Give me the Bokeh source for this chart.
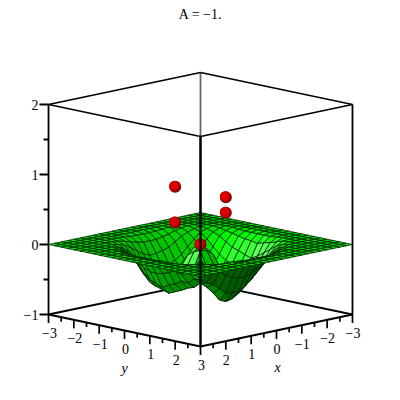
import numpy as np
from bokeh.plotting import figure
from bokeh.models import Range1d
from bokeh.core.properties import value
from bokeh.embed import file_html
from bokeh.resources import INLINE

# Surface heights in hundredths, rows y=-2.25..2.25, columns x=-2.25..2.25 (step 0.25); zero outside.
Z_CORE = [
 [0,0,0,0,0,0,-1,-2,-2,-2,-2,-2,-1,0,0,0,0,0,0],
 [0,0,0,0,-1,-3,-6,-8,-10,-10,-10,-8,-6,-3,-1,0,0,0,0],
 [0,0,0,-2,-5,-9,-15,-21,-24,-26,-27,-23,-17,-10,-5,-2,0,0,0],
 [0,0,-2,-5,-13,-22,-31,-38,-41,-45,-46,-42,-34,-24,-14,-6,-2,0,0],
 [0,-1,-5,-13,-24,-36,-45,-49,-51,-54,-57,-54,-50,-40,-27,-14,-5,-1,0],
 [0,-3,-9,-22,-36,-47,-52,-50,-50,-50,-55,-56,-58,-52,-40,-24,-10,-3,0],
 [-1,-5,-15,-31,-45,-52,-50,-44,-40,-38,-44,-49,-55,-58,-50,-34,-17,-6,-1],
 [-2,-7,-21,-38,-49,-50,-44,-35,-26,-22,-29,-39,-49,-56,-54,-42,-23,-8,-2],
 [-2,-9,-24,-41,-51,-50,-40,-26,-13,-6,-15,-29,-44,-55,-57,-46,-27,-10,-2],
 [-2,-10,-28,-48,-58,-54,-42,-25,-8,0,-8,-25,-42,-54,-60,-50,-28,-10,-2],
 [-2,-12,-31,-53,-66,-63,-51,-33,-14,-7,-5,-28,-46,-54,-56,-44,-26,-10,-2],
 [-2,-9,-26,-48,-62,-64,-56,-45,-30,-24,-28,-14,-34,-50,-52,-41,-23,-8,-2],
 [-1,-7,-20,-38,-52,-58,-58,-54,-50,-46,-50,-36,-20,-40,-47,-35,-18,-6,-1],
 [0,-4,-13,-27,-40,-50,-58,-60,-60,-62,-62,-56,-40,-34,-44,-36,-22,-8,-2],
 [0,-1,-6,-15,-26,-36,-46,-54,-62,-68,-70,-66,-54,-44,-36,-28,-14,-5,-1],
 [0,0,-2,-6,-14,-24,-33,-42,-50,-55,-56,-54,-46,-38,-34,-28,-10,-3,0],
 [0,0,0,-2,-5,-10,-16,-23,-29,-33,-32,-30,-24,-18,-13,-8,-3,0,0],
 [0,0,0,0,-1,-3,-6,-8,-11,-12,-12,-11,-9,-6,-4,-2,0,0,0],
 [0,0,0,0,0,0,-1,-2,-2,-2,-2,-2,-1,0,0,0,0,0,0],
]
POINT_X = [0, 1, 0, -1, 0]
POINT_Y = [-1, 0, 1, 0, 0]
POINT_Z = [0.75, 0.39, 0.53, 0.60, 0.0]
TITLE = "A = \u22121."
Z_TICKS = [-1, 0, 1, 2]
Z_MINOR = [-0.5, 0.5, 1.5]
XY_TICKS = [-3, -2, -1, 0, 1, 2, 3]
XY_MINOR = [-2.5, -1.5, -0.5, 0.5, 1.5, 2.5]


def lab(v):
    return str(v).replace("-", "\u2212")


def px(x, y, z):
    return (200 + 25.33 * (np.asarray(y) - np.asarray(x)),
            244 + 5.33 * (np.asarray(x) + np.asarray(y)) - 70 * np.asarray(z))


FONT = value("Liberation Serif")
p = figure(width=384, height=384, x_range=Range1d(0, 384), y_range=Range1d(384, 0),
           output_backend="svg", toolbar_location=None, min_border=0)
p.axis.visible = False
p.grid.visible = False
p.outline_line_color = None


def seg(a, b, w=1.6, c="black"):
    xs, ys = px([a[0], b[0]], [a[1], b[1]], [a[2], b[2]])
    p.line(list(xs), list(ys), line_color=c, line_width=w)


# back of the box
seg((-3, -3, -1), (-3, -3, 2), 1.8, "#666666")
seg((3, -3, -1), (-3, -3, -1), 1.8)
seg((-3, 3, -1), (-3, -3, -1), 1.8)
seg((3, -3, 2), (-3, -3, 2), 1.6)
seg((-3, 3, 2), (-3, -3, 2), 1.6)
seg((3, -3, -1), (3, -3, 2), 1.8)
seg((-3, 3, -1), (-3, 3, 2), 1.8)

# surface
Z = np.pad(np.array(Z_CORE, dtype=float) / 100, 3)
G = np.arange(25) * 0.25 - 3
cells = []
for j in range(24):
    for i in range(24):
        idx = [(j, i), (j, i + 1), (j + 1, i + 1), (j + 1, i)]
        xs = np.array([G[c] for r, c in idx])
        ys = np.array([G[r] for r, c in idx])
        zs = np.array([Z[r, c] for r, c in idx])
        sx, sy = px(xs, ys, zs)
        area = 0.5 * np.sum(sx * np.roll(sy, -1) - np.roll(sx, -1) * sy)
        dzx = ((zs[1] + zs[2]) - (zs[0] + zs[3])) / 0.5
        dzy = ((zs[2] + zs[3]) - (zs[0] + zs[1])) / 0.5
        n = np.array([-dzx, -dzy, 1.0])
        n /= np.linalg.norm(n)
        s = (n[0] - n[1]) / 1.414
        if area < 0:
            if s >= 0:
                v = 0.84 + 1.1 * s
            elif s > -0.62:
                v = 0.84 + 0.25 * s
            else:
                v = 0.685 + 2.5 * (s + 0.62)
            v = max(v, 0.4)
            g = min(v, 1) * 255
            rb = max(0, min(0.45, (v - 1))) * 255
        else:
            v = 0.50 - 0.4 * s
            g = max(0.35, min(v, 0.68)) * 255
            rb = 0
        col = "#%02x%02x%02x" % (int(rb), int(g), int(rb))
        cells.append((xs.sum() + ys.sum() - 0.01 * zs.sum(), list(sx), list(sy), col))
cells.sort(key=lambda c: c[0])
p.patches([c[1] for c in cells], [c[2] for c in cells], fill_color=[c[3] for c in cells],
          line_color="#002200", line_width=0.75)

# points
sx, sy = px(POINT_X, POINT_Y, POINT_Z)
p.scatter(sx, sy, size=12, fill_color="#7a0000", line_color=None)
p.scatter(sx - 0.6, sy - 0.6, size=10.8, fill_color="#b40000", line_color=None)
p.scatter(sx - 1, sy - 1, size=8, fill_color="#dc0000", line_color=None)

# front of the box
seg((3, 3, -1), (3, 3, 2), 2.4)
seg((3, -3, 2), (3, 3, 2), 1.6)
seg((-3, 3, 2), (3, 3, 2), 1.6)
seg((3, -3, -1), (3, 3, -1), 2.0)
seg((-3, 3, -1), (3, 3, -1), 2.0)

# z axis
for t in Z_TICKS:
    _, y0 = px(3, -3, t)
    p.line([39, 48], [y0, y0], line_color="black", line_width=1.8)
for t in Z_MINOR:
    _, y0 = px(3, -3, t)
    p.line([43, 48], [y0, y0], line_color="black", line_width=1.8)
_, zy = px(3, -3, np.array(Z_TICKS))
p.text([38] * 4, list(zy), text=[lab(t) for t in Z_TICKS], text_font=FONT, text_font_size="14px",
       text_align="right", text_baseline="middle", text_color="black")

# y axis (x=3) and x axis (y=3); the two axes share the label at the front corner
for name, pts, ticks in (("y", [(3, t) for t in XY_TICKS], XY_TICKS),
                         ("x", [(t, 3) for t in XY_TICKS[:-1]], XY_TICKS[:-1])):
    a, b = zip(*pts)
    tx, ty = px(a, b, [-1] * len(pts))
    for u, v in zip(tx, ty):
        p.line([u, u], [v, v + 8.5], line_color="black", line_width=1.7)
    p.text(list(tx + (1 if name == "y" else 0.5)), list(ty + 18.5), text=[lab(t) for t in ticks], text_font=FONT,
           text_font_size="14px", text_align="center", text_baseline="middle", text_color="black")
for u, v in [px(3, t, -1) for t in XY_MINOR] + [px(t, 3, -1) for t in XY_MINOR]:
    p.line([float(u), float(u)], [float(v), float(v) + 4.5], line_color="black", line_width=1.7)

p.text([124, 277], [368, 367], text=["y", "x"], text_font=FONT, text_font_size="14px",
       text_font_style="italic", text_align="center", text_baseline="middle", text_color="black")
p.text([200], [14], text=[TITLE], text_font=FONT, text_font_size="14px",
       text_align="center", text_baseline="middle", text_color="black")

open("out.html", "w").write(file_html(p, INLINE))
